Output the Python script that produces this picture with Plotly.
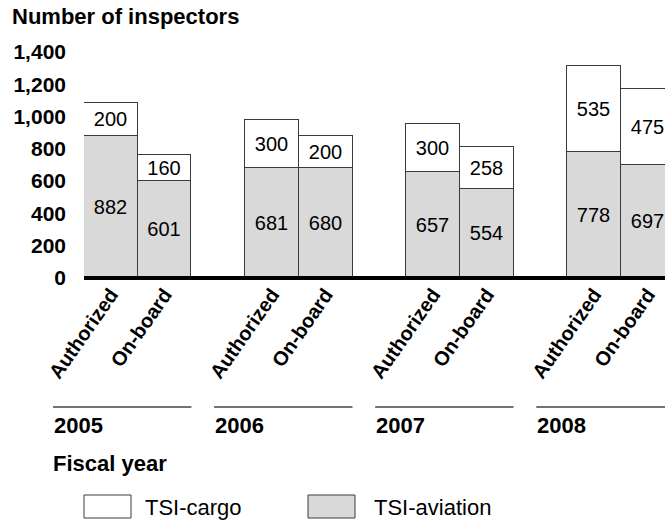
import plotly.graph_objects as go

# ---- data ----
years = ["2005", "2006", "2007", "2008"]
bar_types = ["Authorized", "On-board"]
tsi_aviation = [882, 601, 681, 680, 657, 554, 778, 697]
tsi_cargo = [200, 160, 300, 200, 300, 258, 535, 475]
y_ticks = [0, 200, 400, 600, 800, 1000, 1200, 1400]

# ---- layout geometry ----
W, H = 665, 521
L, R, T, B = 84, 665, 52, 278
bar_px = 53.7
x0 = -0.5
x1 = x0 + (R - L) / bar_px

positions = []
ticktext = []
for g, _ in enumerate(years):
    for k, t in enumerate(bar_types):
        positions.append(3 * g + k)
        ticktext.append("<b>%s</b>" % t)

FONT = "Liberation Sans, Arial, Helvetica, sans-serif"
EDGE = "#3a3a3a"
GRAY = "#d9d9d9"


def xpaper(xd):
    return (xd - x0) / (x1 - x0)


def pxx(p):
    return (p - L) / (R - L)


def pxy(p):
    return (B - p) / (B - T)


fig = go.Figure()
fig.add_trace(go.Bar(
    x=positions, y=tsi_aviation, width=1, name="TSI-aviation",
    marker=dict(color=GRAY, line=dict(color=EDGE, width=1)),
    text=[str(v) for v in tsi_aviation], textposition="inside",
    insidetextanchor="middle", textangle=0, constraintext="none",
    textfont=dict(family=FONT, size=20, color="black"),
    hoverinfo="skip", cliponaxis=False,
))
fig.add_trace(go.Bar(
    x=positions, y=tsi_cargo, width=1, name="TSI-cargo",
    marker=dict(color="white", line=dict(color=EDGE, width=1)),
    text=[str(v) for v in tsi_cargo], textposition="inside",
    insidetextanchor="middle", textangle=0, constraintext="none",
    textfont=dict(family=FONT, size=20, color="black"),
    hoverinfo="skip", cliponaxis=False,
))

shapes = []
annotations = []

# thick baseline
shapes.append(dict(type="line", xref="paper", yref="paper", x0=0, x1=1.05,
                   y0=pxy(278), y1=pxy(278),
                   line=dict(color="black", width=4), layer="above"))

# year group lines and labels
for g, yr in enumerate(years):
    xs = 3 * g - 0.5 - 31 / bar_px
    xe = 3 * g + 1.5
    shapes.append(dict(type="line", xref="paper", yref="paper",
                       x0=xpaper(xs), x1=xpaper(xe), y0=pxy(407), y1=pxy(407),
                       line=dict(color="#444444", width=1.3)))
    annotations.append(dict(xref="paper", yref="paper", x=xpaper(xs), y=pxy(425),
                            xanchor="left", yanchor="middle", showarrow=False,
                            text="<b>%s</b>" % yr, borderpad=0,
                            font=dict(family=FONT, size=22, color="black")))

annotations.append(dict(xref="paper", yref="paper", x=pxx(52), y=pxy(463),
                        xanchor="left", yanchor="middle", showarrow=False,
                        text="<b>Fiscal year</b>", borderpad=0,
                        font=dict(family=FONT, size=22, color="black")))

# custom legend
legend_items = [("TSI-cargo", "white", 84, 144), ("TSI-aviation", GRAY, 308, 373)]
for name, col, bx, tx in legend_items:
    shapes.append(dict(type="rect", xref="paper", yref="paper",
                       x0=pxx(bx), x1=pxx(bx + 47), y0=pxy(495), y1=pxy(518),
                       fillcolor=col, line=dict(color=EDGE, width=1)))
    annotations.append(dict(xref="paper", yref="paper", x=pxx(tx), y=pxy(507),
                            xanchor="left", yanchor="middle", showarrow=False,
                            text=name, borderpad=0,
                            font=dict(family=FONT, size=22, color="black")))

fig.update_layout(
    width=W, height=H,
    margin=dict(l=L, r=W - R, t=T, b=H - B, pad=0),
    barmode="stack", bargap=0,
    plot_bgcolor="white", paper_bgcolor="white",
    showlegend=False,
    title=dict(text="<b>Number of inspectors</b>", x=12 / W, xanchor="left",
               y=1 - 16.5 / H, yanchor="middle", xref="container", yref="container",
               font=dict(family=FONT, size=22, color="black")),
    font=dict(family=FONT, color="black"),
    xaxis=dict(range=[x0, x1], tickvals=positions, ticktext=ticktext,
               tickangle=-55, showgrid=False, zeroline=False, showline=False,
               ticks="", tickfont=dict(family=FONT, size=20, color="black")),
    yaxis=dict(range=[0, 1400], tickvals=y_ticks,
               ticktext=["<b>%s</b>" % f"{v:,}" for v in y_ticks], showgrid=False,
               zeroline=False, showline=False, ticks="", ticklabelstandoff=17,
               tickfont=dict(family=FONT, size=21, color="black")),
    shapes=shapes, annotations=annotations,
)

fig.write_html("out.html",
               config={"displayModeBar": False},
               post_script="document.body.style.margin='0';document.body.style.overflow='hidden';")
